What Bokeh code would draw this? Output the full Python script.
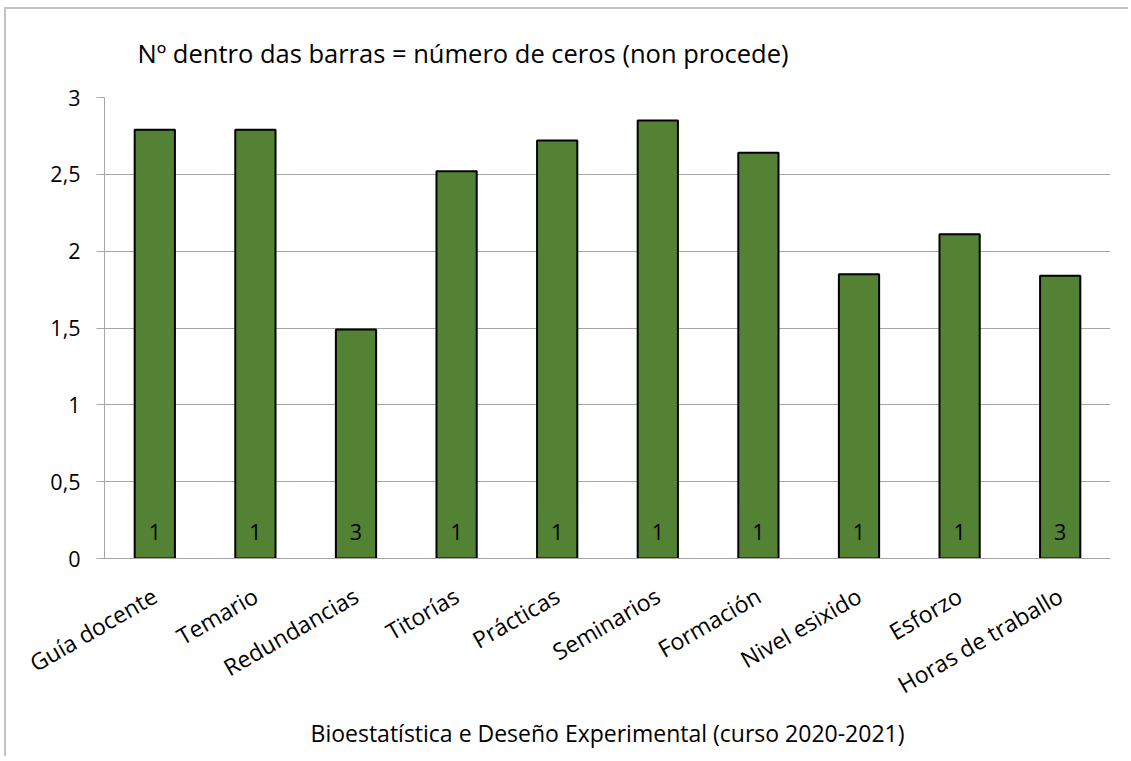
from bokeh.plotting import figure
from bokeh.models import ColumnDataSource, FactorRange, Range1d, FixedTicker
from bokeh.core.properties import value
from bokeh.embed import file_html
from bokeh.resources import INLINE
import math

categories = ["Guía docente", "Temario", "Redundancias", "Titorías", "Prácticas",
              "Seminarios", "Formación", "Nivel esixido", "Esforzo", "Horas de traballo"]
means = [2.79, 2.79, 1.49, 2.52, 2.72, 2.85, 2.64, 1.85, 2.11, 1.84]
zero_counts = [1, 1, 3, 1, 1, 1, 1, 1, 1, 3]
y_ticks = [0, 0.5, 1, 1.5, 2, 2.5, 3]
y_tick_labels = ["0", "0,5", "1", "1,5", "2", "2,5", "3"]
title_text = "Nº dentro das barras = número de ceros (non procede)"
x_title = "Bioestatística e Deseño Experimental (curso 2020-2021)"

FONT = "Open Sans"
GRID = "#a6a6a6"

src = ColumnDataSource(dict(cat=categories, val=means,
                            zeros=[str(z) for z in zero_counts],
                            base=[0] * len(categories)))

p = figure(x_range=FactorRange(factors=categories, range_padding=0),
           y_range=Range1d(0, 3),
           frame_width=1006, frame_height=461,
           min_border_left=98, min_border_right=18, min_border_top=88, min_border_bottom=198,
           output_backend="svg", toolbar_location=None, tools="")
p.styles = {"border-top": "2px solid #c4c4c4", "border-left": "2px solid #c4c4c4",
            "margin-left": "4px", "margin-top": "7px"}

p.title.text = title_text
p.title.align = "left"
p.title.vertical_align = "top"
p.title.offset = 33
p.title.text_font = FONT
p.title.text_font_style = "normal"
p.title.text_font_size = "25.5px"
p.title.text_color = "black"
p.title.standoff = 52

p.vbar(x="cat", top="val", width=0.4, source=src,
       fill_color="#548235", line_color="black", line_width=2)
p.text(x="cat", y="base", text="zeros", source=src,
       text_align="center", text_baseline="middle", y_offset=-27,
       text_font=value(FONT), text_font_size="21.5px", text_color="black")

p.outline_line_color = None
p.background_fill_color = "white"
p.border_fill_color = "white"

p.xgrid.grid_line_color = None
p.ygrid.grid_line_color = GRID
p.ygrid.grid_line_width = 1
p.ygrid.ticker = FixedTicker(ticks=y_ticks)

p.yaxis.ticker = FixedTicker(ticks=y_ticks)
p.yaxis.major_label_overrides = {t: l for t, l in zip(y_ticks, y_tick_labels)}
p.yaxis.axis_line_color = GRID
p.yaxis.major_tick_line_color = GRID
p.yaxis.major_tick_out = 8
p.yaxis.major_tick_in = 0
p.yaxis.minor_tick_line_color = None
p.yaxis.major_label_text_font = FONT
p.yaxis.major_label_text_font_size = "21.5px"
p.yaxis.major_label_text_color = "black"
p.yaxis.major_label_standoff = 16

p.xaxis.axis_line_color = GRID
p.xaxis.major_tick_line_color = None
p.xaxis.minor_tick_line_color = None
p.xaxis.major_label_orientation = math.pi / 6
p.xaxis.major_label_text_font = FONT
p.xaxis.major_label_text_font_size = "23px"
p.xaxis.major_label_text_color = "black"
p.xaxis.major_label_standoff = 29
p.xaxis.axis_label = x_title
p.xaxis.axis_label_text_font = FONT
p.xaxis.axis_label_text_font_style = "normal"
p.xaxis.axis_label_text_font_size = "23px"
p.xaxis.axis_label_text_color = "black"
p.xaxis.axis_label_standoff = 0

open("out.html", "w").write(file_html(p, INLINE))
